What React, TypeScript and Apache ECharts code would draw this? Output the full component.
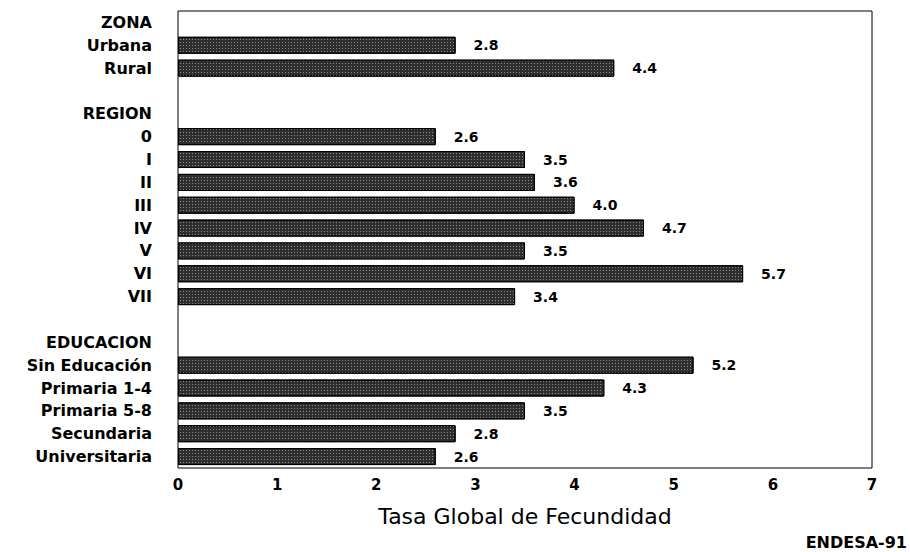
import React, { useEffect, useRef } from "react";
import * as echarts from "echarts";

const zonaHeader = "ZONA";
const zonaLabels = ["Urbana", "Rural"];
const zonaValues = [2.8, 4.4];

const regionHeader = "REGION";
const regionLabels = ["0", "I", "II", "III", "IV", "V", "VI", "VII"];
const regionValues = [2.6, 3.5, 3.6, 4.0, 4.7, 3.5, 5.7, 3.4];

const educHeader = "EDUCACION";
const educLabels = ["Sin Educación", "Primaria 1-4", "Primaria 5-8", "Secundaria", "Universitaria"];
const educValues = [5.2, 4.3, 3.5, 2.8, 2.6];

const xTicks = [0, 1, 2, 3, 4, 5, 6, 7];
const xTitle = "Tasa Global de Fecundidad";
const sourceNote = "ENDESA-91";

const categories: string[] = [
  zonaHeader, ...zonaLabels, " ",
  regionHeader, ...regionLabels, "  ",
  educHeader, ...educLabels,
];
const values: (number | null)[] = [
  null, ...zonaValues, null,
  null, ...regionValues, null,
  null, ...educValues,
];

const FONT = "DejaVu Sans";

export default function App() {
  const ref = useRef<HTMLDivElement>(null);
  useEffect(() => {
    if (!ref.current) return;
    const chart = echarts.init(ref.current, null, { renderer: "svg" });
    chart.setOption({
      animation: false,
      backgroundColor: "#fff",
      grid: {
        left: 178,
        right: 38,
        top: 11,
        bottom: 84,
        show: true,
        borderColor: "#000",
        borderWidth: 1,
        containLabel: false,
        outerBoundsMode: "none",
      },
      xAxis: {
        type: "value",
        min: xTicks[0],
        max: xTicks[xTicks.length - 1],
        interval: 1,
        axisLine: { show: false },
        axisTick: { show: false },
        splitLine: { show: false },
        axisLabel: {
          margin: 9,
          color: "#000",
          fontFamily: FONT,
          fontWeight: "bold",
          fontSize: 15,
        },
        name: xTitle,
        nameLocation: "middle",
        nameGap: 37,
        nameTextStyle: {
          color: "#000",
          fontFamily: FONT,
          fontSize: 22,
        },
      },
      yAxis: {
        type: "category",
        inverse: true,
        data: categories,
        axisLine: { show: false },
        axisTick: { show: false },
        splitLine: { show: false },
        axisLabel: {
          margin: 26,
          interval: 0,
          color: "#000",
          fontFamily: FONT,
          fontWeight: "bold",
          fontSize: 16,
        },
      },
      series: [
        {
          type: "bar",
          data: values,
          barWidth: 17,
          itemStyle: {
            color: "#2e2e2e",
            borderColor: "#000",
            borderWidth: 1,
            decal: {
              symbol: "rect",
              symbolSize: 1,
              dashArrayX: [1, 2],
              dashArrayY: [1, 2],
              color: "rgba(255,255,255,0.45)",
              rotation: 0,
            },
          },
          label: {
            show: true,
            position: "right",
            distance: 18,
            color: "#000",
            fontFamily: FONT,
            fontWeight: "bold",
            fontSize: 14,
            formatter: (p: any) => (p.value == null ? "" : Number(p.value).toFixed(1)),
          },
        },
      ],
      graphic: [
        {
          type: "text",
          right: 3,
          top: 534,
          style: {
            text: sourceNote,
            fill: "#000",
            font: `bold 16px "${FONT}"`,
          },
        },
      ],
    });
    return () => chart.dispose();
  }, []);
  return (
    <div
      ref={ref}
      style={{ position: "fixed", left: 0, top: 0, width: 910, height: 552 }}
    />
  );
}
